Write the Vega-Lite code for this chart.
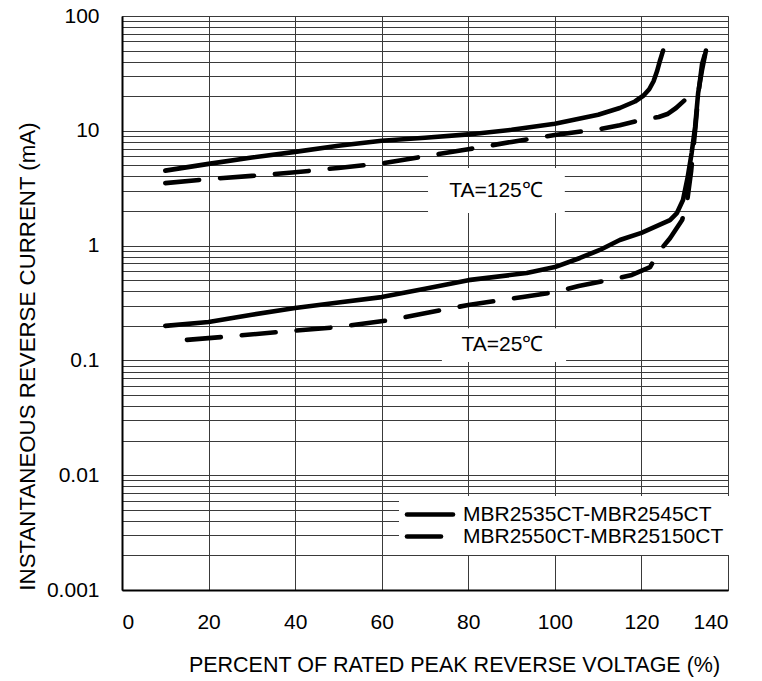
{
  "$schema": "https://vega.github.io/schema/vega-lite/v6.json",
  "width": 606,
  "height": 574,
  "autosize": {"type": "none"},
  "padding": {"left": 122, "top": 16, "right": 34, "bottom": 91},
  "background": "white",
  "config": {
    "font": "Liberation Sans",
    "view": {"stroke": "#555555", "strokeWidth": 1},
    "axis": {"labelFont": "Liberation Sans", "titleFont": "Liberation Sans", "labelColor": "black", "titleColor": "black", "titleFontWeight": "normal"}
  },
  "datasets": {
    "curves": [
      {"c": "s125", "m": "MBR2535CT-MBR2545CT", "v": 10, "i": 4.5},
      {"c": "s125", "m": "MBR2535CT-MBR2545CT", "v": 20, "i": 5.15},
      {"c": "s125", "m": "MBR2535CT-MBR2545CT", "v": 30, "i": 5.85},
      {"c": "s125", "m": "MBR2535CT-MBR2545CT", "v": 40, "i": 6.55},
      {"c": "s125", "m": "MBR2535CT-MBR2545CT", "v": 50, "i": 7.4},
      {"c": "s125", "m": "MBR2535CT-MBR2545CT", "v": 60, "i": 8.2},
      {"c": "s125", "m": "MBR2535CT-MBR2545CT", "v": 70, "i": 8.7},
      {"c": "s125", "m": "MBR2535CT-MBR2545CT", "v": 80, "i": 9.3},
      {"c": "s125", "m": "MBR2535CT-MBR2545CT", "v": 90, "i": 10.2},
      {"c": "s125", "m": "MBR2535CT-MBR2545CT", "v": 100, "i": 11.5},
      {"c": "s125", "m": "MBR2535CT-MBR2545CT", "v": 110, "i": 13.8},
      {"c": "s125", "m": "MBR2535CT-MBR2545CT", "v": 115, "i": 15.8},
      {"c": "s125", "m": "MBR2535CT-MBR2545CT", "v": 118.5, "i": 18.0},
      {"c": "s125", "m": "MBR2535CT-MBR2545CT", "v": 120.5, "i": 20.3},
      {"c": "s125", "m": "MBR2535CT-MBR2545CT", "v": 121.8, "i": 23.0},
      {"c": "s125", "m": "MBR2535CT-MBR2545CT", "v": 122.8, "i": 27},
      {"c": "s125", "m": "MBR2535CT-MBR2545CT", "v": 123.6, "i": 33},
      {"c": "s125", "m": "MBR2535CT-MBR2545CT", "v": 124.3, "i": 41},
      {"c": "s125", "m": "MBR2535CT-MBR2545CT", "v": 125, "i": 50},
      {"c": "d125", "m": "MBR2550CT-MBR25150CT", "v": 10, "i": 3.5},
      {"c": "d125", "m": "MBR2550CT-MBR25150CT", "v": 20, "i": 3.8},
      {"c": "d125", "m": "MBR2550CT-MBR25150CT", "v": 30, "i": 4.05},
      {"c": "d125", "m": "MBR2550CT-MBR25150CT", "v": 40, "i": 4.35},
      {"c": "d125", "m": "MBR2550CT-MBR25150CT", "v": 50, "i": 4.75},
      {"c": "d125", "m": "MBR2550CT-MBR25150CT", "v": 60, "i": 5.2},
      {"c": "d125", "m": "MBR2550CT-MBR25150CT", "v": 70, "i": 6.0},
      {"c": "d125", "m": "MBR2550CT-MBR25150CT", "v": 80, "i": 6.9},
      {"c": "d125", "m": "MBR2550CT-MBR25150CT", "v": 90, "i": 8.0},
      {"c": "d125", "m": "MBR2550CT-MBR25150CT", "v": 100, "i": 9.2},
      {"c": "d125", "m": "MBR2550CT-MBR25150CT", "v": 110, "i": 10.3},
      {"c": "d125", "m": "MBR2550CT-MBR25150CT", "v": 115, "i": 11.2},
      {"c": "d125", "m": "MBR2550CT-MBR25150CT", "v": 120, "i": 12.4},
      {"c": "d125", "m": "MBR2550CT-MBR25150CT", "v": 124, "i": 13.2},
      {"c": "d125", "m": "MBR2550CT-MBR25150CT", "v": 126, "i": 14},
      {"c": "d125", "m": "MBR2550CT-MBR25150CT", "v": 128, "i": 15.8},
      {"c": "d125", "m": "MBR2550CT-MBR25150CT", "v": 130, "i": 18.5},
      {"c": "d125", "m": "MBR2550CT-MBR25150CT", "v": 132, "i": 22.5},
      {"c": "s25", "m": "MBR2535CT-MBR2545CT", "v": 10, "i": 0.2},
      {"c": "s25", "m": "MBR2535CT-MBR2545CT", "v": 20, "i": 0.216},
      {"c": "s25", "m": "MBR2535CT-MBR2545CT", "v": 30, "i": 0.25},
      {"c": "s25", "m": "MBR2535CT-MBR2545CT", "v": 40, "i": 0.286},
      {"c": "s25", "m": "MBR2535CT-MBR2545CT", "v": 50, "i": 0.32},
      {"c": "s25", "m": "MBR2535CT-MBR2545CT", "v": 60, "i": 0.356},
      {"c": "s25", "m": "MBR2535CT-MBR2545CT", "v": 70, "i": 0.42},
      {"c": "s25", "m": "MBR2535CT-MBR2545CT", "v": 80, "i": 0.5},
      {"c": "s25", "m": "MBR2535CT-MBR2545CT", "v": 93.5, "i": 0.577},
      {"c": "s25", "m": "MBR2535CT-MBR2545CT", "v": 100, "i": 0.65},
      {"c": "s25", "m": "MBR2535CT-MBR2545CT", "v": 105.8, "i": 0.78},
      {"c": "s25", "m": "MBR2535CT-MBR2545CT", "v": 110.4, "i": 0.916},
      {"c": "s25", "m": "MBR2535CT-MBR2545CT", "v": 115, "i": 1.12},
      {"c": "s25", "m": "MBR2535CT-MBR2545CT", "v": 120, "i": 1.29},
      {"c": "s25", "m": "MBR2535CT-MBR2545CT", "v": 126.6, "i": 1.67},
      {"c": "s25", "m": "MBR2535CT-MBR2545CT", "v": 128.2, "i": 1.92},
      {"c": "s25", "m": "MBR2535CT-MBR2545CT", "v": 129.6, "i": 2.5},
      {"c": "s25", "m": "MBR2535CT-MBR2545CT", "v": 130.7, "i": 3.96},
      {"c": "s25", "m": "MBR2535CT-MBR2545CT", "v": 131.6, "i": 6.4},
      {"c": "s25", "m": "MBR2535CT-MBR2545CT", "v": 132.4, "i": 10.8},
      {"c": "s25", "m": "MBR2535CT-MBR2545CT", "v": 133.1, "i": 21.3},
      {"c": "s25", "m": "MBR2535CT-MBR2545CT", "v": 134, "i": 33.9},
      {"c": "s25", "m": "MBR2535CT-MBR2545CT", "v": 134.9, "i": 50},
      {"c": "d25", "m": "MBR2550CT-MBR25150CT", "v": 15, "i": 0.151},
      {"c": "d25", "m": "MBR2550CT-MBR25150CT", "v": 23.3, "i": 0.16},
      {"c": "d25", "m": "MBR2550CT-MBR25150CT", "v": 36.5, "i": 0.177},
      {"c": "d25", "m": "MBR2550CT-MBR25150CT", "v": 49.7, "i": 0.195},
      {"c": "d25", "m": "MBR2550CT-MBR25150CT", "v": 62, "i": 0.225},
      {"c": "d25", "m": "MBR2550CT-MBR25150CT", "v": 80, "i": 0.304},
      {"c": "d25", "m": "MBR2550CT-MBR25150CT", "v": 92.6, "i": 0.357},
      {"c": "d25", "m": "MBR2550CT-MBR25150CT", "v": 100, "i": 0.394},
      {"c": "d25", "m": "MBR2550CT-MBR25150CT", "v": 105.5, "i": 0.445},
      {"c": "d25", "m": "MBR2550CT-MBR25150CT", "v": 113.4, "i": 0.51},
      {"c": "d25", "m": "MBR2550CT-MBR25150CT", "v": 117.8, "i": 0.555},
      {"c": "d25", "m": "MBR2550CT-MBR25150CT", "v": 122, "i": 0.65},
      {"c": "d25", "m": "MBR2550CT-MBR25150CT", "v": 124, "i": 0.88},
      {"c": "d25", "m": "MBR2550CT-MBR25150CT", "v": 126.6, "i": 1.16},
      {"c": "d25", "m": "MBR2550CT-MBR25150CT", "v": 129.4, "i": 1.67},
      {"c": "d25", "m": "MBR2550CT-MBR25150CT", "v": 130.5, "i": 2.35},
      {"c": "d25", "m": "MBR2550CT-MBR25150CT", "v": 131.5, "i": 4.5},
      {"c": "d25", "m": "MBR2550CT-MBR25150CT", "v": 132.5, "i": 11},
      {"c": "d25", "m": "MBR2550CT-MBR25150CT", "v": 133.2, "i": 22},
      {"c": "d25", "m": "MBR2550CT-MBR25150CT", "v": 134, "i": 38},
      {"c": "d25", "m": "MBR2550CT-MBR25150CT", "v": 134.9, "i": 50}
    ],
    "notes": [
      {"label": "TA=125℃", "x": 86.4, "y": 2.99, "xa": 70.7, "xb": 102.3, "ya": 1.92, "yb": 4.74},
      {"label": "TA=25℃", "x": 87.9, "y": 0.135, "xa": 73.9, "xb": 102.6, "ya": 0.097, "yb": 0.191}
    ]
  },
  "layer": [
    {
      "data": {"name": "notes"},
      "mark": {"type": "rect", "fill": "white", "stroke": null},
      "encoding": {
        "x": {"field": "xa", "type": "quantitative", "scale": {"domain": [0, 140]}},
        "x2": {"field": "xb"},
        "y": {"field": "ya", "type": "quantitative", "scale": {"type": "log", "domain": [0.001, 100]}},
        "y2": {"field": "yb"}
      }
    },
    {
      "data": {"name": "notes"},
      "mark": {"type": "text", "font": "Liberation Sans", "fontSize": 21, "color": "black", "align": "center", "baseline": "middle"},
      "encoding": {
        "x": {"field": "x", "type": "quantitative"},
        "y": {"field": "y", "type": "quantitative"},
        "text": {"field": "label"}
      }
    },
    {
      "data": {"name": "curves"},
      "mark": {"type": "line", "color": "black", "strokeWidth": 4.6, "strokeCap": "round", "strokeJoin": "round"},
      "encoding": {
        "x": {
          "field": "v", "type": "quantitative",
          "scale": {"domain": [0, 140], "nice": false, "zero": false},
          "axis": {
            "values": [0, 20, 40, 60, 80, 100, 120, 140],
            "grid": true, "gridColor": "#3a3a3a", "gridWidth": 1,
            "ticks": false, "tickSize": 0,
            "domain": true, "domainColor": "black", "domainWidth": 2,
            "labelFontSize": 21, "labelPadding": 32, "labelBaseline": "middle",
            "title": "PERCENT OF RATED PEAK REVERSE VOLTAGE (%)",
            "titleFontSize": 21.5, "titleX": 332, "titleY": 75, "titleBaseline": "middle"
          }
        },
        "y": {
          "field": "i", "type": "quantitative",
          "scale": {"type": "log", "domain": [0.001, 100], "nice": false},
          "axis": {
            "values": [0.001, 0.002, 0.003, 0.004, 0.005, 0.006, 0.007, 0.008, 0.009, 0.01, 0.02, 0.03, 0.04, 0.05, 0.06, 0.07, 0.08, 0.09, 0.1, 0.2, 0.3, 0.4, 0.5, 0.6, 0.7, 0.8, 0.9, 1, 2, 3, 4, 5, 6, 7, 8, 9, 10, 20, 30, 40, 50, 60, 70, 80, 90, 100],
            "labelExpr": "datum.value == 0.001 ? '0.001' : datum.value == 0.01 ? '0.01' : datum.value == 0.1 ? '0.1' : datum.value == 1 ? '1' : datum.value == 10 ? '10' : datum.value == 100 ? '100' : ''",
            "labelOverlap": false,
            "grid": true, "gridColor": "#3a3a3a", "gridWidth": 1,
            "ticks": false, "tickSize": 0,
            "domain": true, "domainColor": "black", "domainWidth": 2,
            "labelFontSize": 21, "labelPadding": 23,
            "title": "INSTANTANEOUS REVERSE CURRENT (mA)",
            "titleFontSize": 22.3, "titleX": -95, "titleY": 340, "titleBaseline": "middle", "titleAngle": -90
          }
        },
        "detail": {"field": "c"},
        "strokeDash": {
          "field": "m", "type": "nominal",
          "scale": {"domain": ["MBR2535CT-MBR2545CT", "MBR2550CT-MBR25150CT"], "range": [[1000, 0], [34, 21]]},
          "legend": {
            "title": null,
            "orient": "none", "legendX": 277, "legendY": 480,
            "fillColor": "white", "strokeColor": null,
            "padding": 8, "rowPadding": 0,
            "labelFont": "Liberation Sans", "labelFontSize": 21, "labelColor": "black",
            "labelLimit": 400,
            "labelOffset": 35,
            "symbolType": "M-4.6,0H4.6", "symbolSize": 100, "symbolStrokeWidth": 4.6, "symbolStrokeColor": "black",
            "encode": {"symbols": {"update": {"strokeCap": {"value": "round"}, "x": {"value": 23}}}}
          }
        }
      }
    }
  ]
}
